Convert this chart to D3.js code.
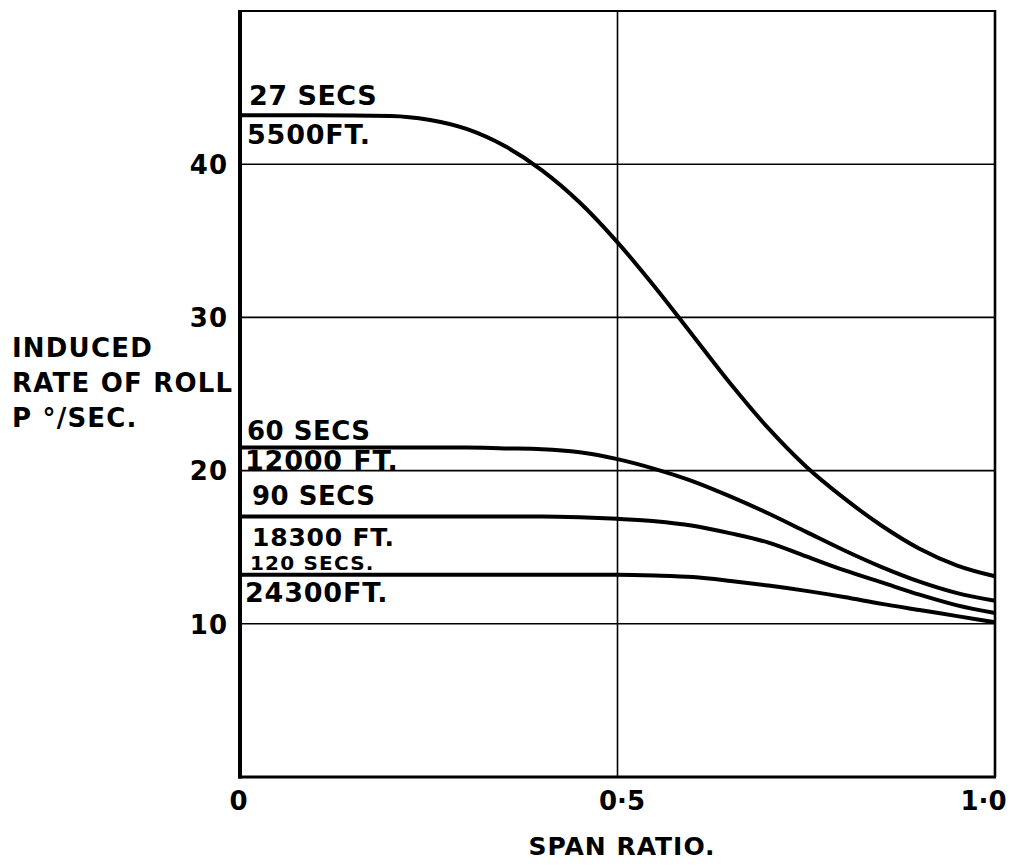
<!DOCTYPE html>
<html>
<head>
<meta charset="utf-8">
<script src="https://cdn.jsdelivr.net/npm/d3@7"></script>
<style>
  body { margin: 0; background: #fff; }
  text { font-family: "DejaVu Sans", sans-serif; font-weight: bold; fill: #000; }
</style>
</head>
<body>
<div id="chart"></div>
<script>
// span ratio stations, shared by every curve
const spanRatio = [0, 0.1, 0.2, 0.25, 0.3, 0.35, 0.4, 0.45, 0.5, 0.55, 0.6, 0.65, 0.7, 0.75, 0.8, 0.85, 0.9, 0.95, 1.0]
// induced rate of roll, deg/sec
const roll27s  = [43.2, 43.2, 43.15, 42.9, 42.3, 41.2, 39.6, 37.5, 34.9, 31.95, 28.8, 25.65, 22.75, 20.25, 18.2, 16.4, 14.9, 13.8, 13.1]
const roll60s  = [21.5, 21.5, 21.5, 21.5, 21.5, 21.45, 21.4, 21.2, 20.75, 20.1, 19.3, 18.3, 17.2, 16.0, 14.8, 13.7, 12.75, 12.0, 11.5]
const roll90s  = [17.0, 17.0, 17.0, 17.0, 17.0, 17.0, 17.0, 16.95, 16.85, 16.7, 16.4, 15.9, 15.3, 14.4, 13.5, 12.7, 11.9, 11.2, 10.7]
const roll120s = [13.2, 13.2, 13.2, 13.2, 13.2, 13.2, 13.2, 13.2, 13.2, 13.15, 13.05, 12.8, 12.5, 12.15, 11.75, 11.3, 10.9, 10.5, 10.1]

const yTicks = [10, 20, 30, 40]
const xTicks = [0, 0.5, 1.0]
const xTickLabels = ["0", "0·5", "1·0"]
const secsLabels = ["27 SECS", "60 SECS", "90 SECS", "120 SECS."]
const heightLabels = ["5500FT.", "12000 FT.", "18300 FT.", "24300FT."]

const series = [roll27s, roll60s, roll90s, roll120s]

let svg = d3.select("#chart").append("svg")
            .attr("width", 1013).attr("height", 867)

let x = d3.scaleLinear().domain([0, 1]).range([240, 995])
let y = d3.scaleLinear().domain([0, 50]).range([777, 11])

//grid lines
svg.selectAll(".hgrid")
  .data(yTicks)
  .enter()
  .append("line")
  .attr("x1", x(0)).attr("x2", x(1))
  .attr("y1", d => y(d)).attr("y2", d => y(d))
  .attr("stroke", "#000").attr("stroke-width", 1.6)

svg.append("line")
  .attr("x1", x(0.5)).attr("x2", x(0.5))
  .attr("y1", y(0)).attr("y2", y(50))
  .attr("stroke", "#000").attr("stroke-width", 1.6)

//frame: thick left and bottom axes, lighter top and right
svg.append("line").attr("x1", x(0)).attr("x2", x(1)).attr("y1", y(50)).attr("y2", y(50))
  .attr("stroke", "#000").attr("stroke-width", 2.2)
svg.append("line").attr("x1", x(1)).attr("x2", x(1)).attr("y1", y(50) - 1).attr("y2", y(0))
  .attr("stroke", "#000").attr("stroke-width", 2.6)
svg.append("line").attr("x1", x(0) - 2).attr("x2", x(1) + 1).attr("y1", y(0)).attr("y2", y(0))
  .attr("stroke", "#000").attr("stroke-width", 3.2)
svg.append("line").attr("x1", x(0)).attr("x2", x(0)).attr("y1", y(50) - 1).attr("y2", y(0) + 1.5)
  .attr("stroke", "#000").attr("stroke-width", 4)

//curves
let line = d3.line()
  .x((d, i) => x(spanRatio[i]))
  .y(d => y(d))
  .curve(d3.curveMonotoneX)

svg.selectAll(".curve")
  .data(series)
  .enter()
  .append("path")
  .attr("class", "curve")
  .attr("d", d => line(d))
  .attr("fill", "none")
  .attr("stroke", "#000")
  .attr("stroke-width", 4)
  .attr("stroke-linejoin", "round")

//axis ticks (labels only)
let yAxis = svg.append("g")
  .attr("transform", `translate(${x(0) - 12},0)`)
  .call(d3.axisLeft(y).tickValues(yTicks).tickSize(0).tickPadding(0))
yAxis.select(".domain").remove()
yAxis.selectAll("text")
  .attr("font-size", 26).attr("font-family", null)
  .attr("letter-spacing", 1)
  .attr("dy", "0.36em")

let xAxis = svg.append("g")
  .attr("transform", `translate(0,${y(0)})`)
  .call(d3.axisBottom(x).tickValues(xTicks).tickSize(0).tickPadding(0)
    .tickFormat((d, i) => xTickLabels[i]))
xAxis.select(".domain").remove()
xAxis.selectAll("text")
  .attr("font-size", 26).attr("font-family", null)
  .attr("y", 33).attr("dy", 0)
  .attr("dx", (d) => d === 1 ? -12 : (d === 0.5 ? 4 : -2))

//axis titles
svg.append("text")
  .attr("x", 622).attr("y", 855)
  .attr("text-anchor", "middle")
  .attr("font-size", 25)
  .attr("letter-spacing", 1)
  .text("SPAN RATIO.")

svg.selectAll(".ytitle")
  .data(["INDUCED", "RATE OF ROLL", "P °/SEC."])
  .enter()
  .append("text")
  .attr("class", "ytitle")
  .attr("x", 12)
  .attr("y", (d, i) => 357 + i * 35)
  .attr("font-size", 26)
  .attr("letter-spacing", 1.2)
  .text(d => d)

//curve annotations: time above the flat part, height below it
let secsOffset = [-10, -8, -12, -5]
let heightOffset = [29, 22, 29, 27]
let labelSize = [27, 26, 26, 20]
svg.selectAll(".secs")
  .data(secsLabels)
  .enter()
  .append("text")
  .attr("class", "secs")
  .attr("x", (d, i) => x(0) + [9, 7, 12, 10][i])
  .attr("y", (d, i) => y(series[i][0]) + secsOffset[i])
  .attr("font-size", (d, i) => labelSize[i])
  .attr("letter-spacing", (d, i) => i === 3 ? 1.2 : 0.5)
  .text(d => d)

svg.selectAll(".height")
  .data(heightLabels)
  .enter()
  .append("text")
  .attr("class", "height")
  .attr("x", (d, i) => x(0) + [7, 5, 12, 5][i])
  .attr("y", (d, i) => y(series[i][0]) + heightOffset[i])
  .attr("font-size", (d, i) => i === 2 ? 25 : 27)
  .attr("letter-spacing", 0.8)
  .text(d => d)
</script>
</body>
</html>
